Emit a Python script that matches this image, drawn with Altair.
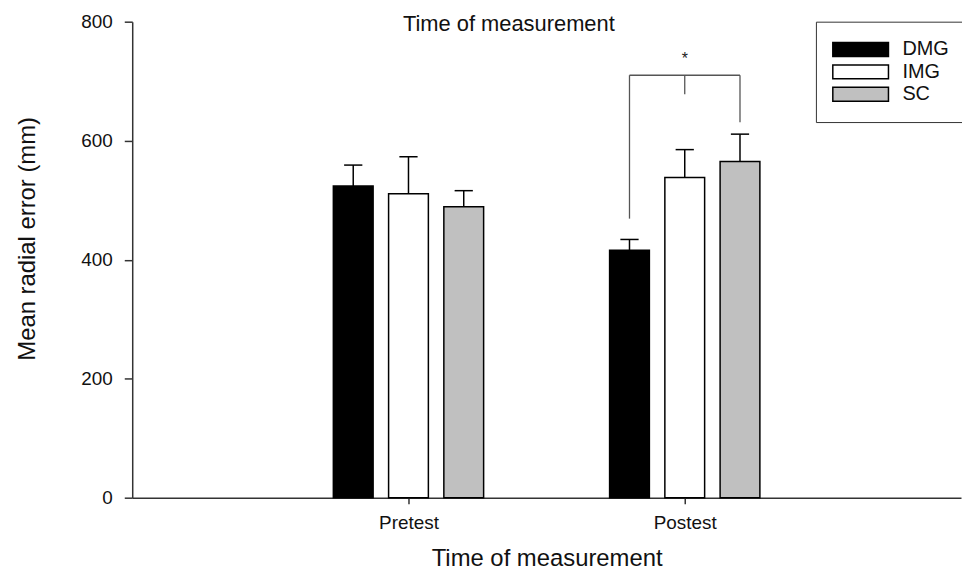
import json
import altair as alt
import pandas as pd

# ---- data ----
times = ["Pretest", "Postest"]
groups = ["DMG", "IMG", "SC"]
dmg_mean = [524, 416]
img_mean = [511, 538]
sc_mean = [489, 565]
dmg_err = [35, 18]
img_err = [62, 47]
sc_err = [27, 46]
bar_colors = ["#000000", "#ffffff", "#c0c0c0"]
y_ticks = [0, 200, 400, 600, 800]

# significance bracket (Postest: DMG vs SC)
bracket_time = "Postest"
bracket_left_y = 469
bracket_right_y = 631
bracket_mid_y = 678
bracket_top_y = 710
star_y = 738
star_text = "*"

top_title = "Time of measurement"
x_title = "Time of measurement"
y_title = "Mean radial error (mm)"

rows = []
for g, m, e in zip(groups, [dmg_mean, img_mean, sc_mean], [dmg_err, img_err, sc_err]):
    for t, mv, ev in zip(times, m, e):
        rows.append({"time": t, "group": g, "mean": mv, "err": ev})
df = pd.DataFrame(rows)

bracket_df = pd.DataFrame([
    {"time": bracket_time, "g1": "DMG", "g2": "DMG", "y1": bracket_left_y, "y2": bracket_top_y},
    {"time": bracket_time, "g1": "SC", "g2": "SC", "y1": bracket_right_y, "y2": bracket_top_y},
    {"time": bracket_time, "g1": "DMG", "g2": "SC", "y1": bracket_top_y, "y2": bracket_top_y},
    {"time": bracket_time, "g1": "IMG", "g2": "IMG", "y1": bracket_mid_y, "y2": bracket_top_y},
])
star_df = pd.DataFrame([{"time": bracket_time, "group": "IMG", "y": star_y, "label": star_text}])
title_df = pd.DataFrame([{"label": top_title}])

T = json.dumps(times)
G = json.dumps(groups)
STEP = 0.2      # offset between bars of a group (x units)
HALF = 0.072    # half bar width
CAP = 0.033     # half error-cap width
FONT = "Liberation Sans, Arial, Helvetica, sans-serif"


def pos(tf, gf):
    return f"indexof({T}, {tf}) + 1 + (indexof({G}, {gf}) - 1) * {STEP}"


xscale = alt.Scale(domain=[0, 3], nice=False, zero=False)
yscale = alt.Scale(domain=[0, 800], nice=False)
xaxis = alt.Axis(values=[1, 2], labelExpr=f"{T}[datum.value - 1]", grid=False,
                 tickSize=6, labelPadding=10, labelFontSize=19, labelColor="#111",
                 domainColor="#333", domainWidth=1.5, tickColor="#333", tickWidth=1.5,
                 titleFontSize=24, titleFontWeight="normal", titleColor="#111",
                 titleY=73, titleBaseline="bottom")
yaxis = alt.Axis(values=y_ticks, grid=False, tickSize=8, labelPadding=12, labelFontSize=19,
                 labelColor="#111", domainColor="#333", domainWidth=1.5, tickColor="#333",
                 tickWidth=1.5, titleFontSize=24, titleFontWeight="normal", titleColor="#111",
                 titleX=-98, titleY=218, titleAngle=270, titleAlign="center",
                 titleBaseline="alphabetic")

base = alt.Chart(df).transform_calculate(
    xc=pos("datum.time", "datum.group"),
    top="datum.mean + datum.err",
).transform_calculate(
    x0=f"datum.xc - {HALF}", x1=f"datum.xc + {HALF}",
    c0=f"datum.xc - {CAP}", c1=f"datum.xc + {CAP}",
)

legend = alt.Legend(
    title=None, orient="none", legendX=688, legendY=0, padding=18,
    strokeColor="#333", fillColor="white",
    symbolType="M0,-1H8V1H0Z", symbolSize=196, symbolStrokeColor="black",
    symbolStrokeWidth=1.5, symbolOpacity=1, symbolOffset=-11, labelOffset=60,
    labelFontSize=20, labelColor="#111", rowPadding=2.5,
    labelExpr="datum.label + '    '",
)

bars = base.mark_bar(stroke="black", strokeWidth=1.5, opacity=1).encode(
    x=alt.X("x0:Q", scale=xscale, axis=xaxis, title=x_title),
    x2="x1:Q",
    y=alt.Y("mean:Q", scale=yscale, axis=yaxis, title=y_title),
    y2=alt.datum(0),
    color=alt.Color("group:N", scale=alt.Scale(domain=groups, range=bar_colors), legend=legend),
)

err_rule = base.mark_rule(color="black", strokeWidth=1.5).encode(
    x=alt.X("xc:Q", scale=xscale, axis=xaxis, title=x_title),
    y=alt.Y("mean:Q", scale=yscale, axis=yaxis, title=y_title),
    y2="top:Q",
)

err_cap = base.mark_rule(color="black", strokeWidth=1.5).encode(
    x=alt.X("c0:Q", scale=xscale, axis=xaxis, title=x_title),
    x2="c1:Q",
    y=alt.Y("top:Q", scale=yscale, axis=yaxis, title=y_title),
)

bracket = alt.Chart(bracket_df).transform_calculate(
    xa=pos("datum.time", "datum.g1"),
    xb=pos("datum.time", "datum.g2"),
).mark_rule(color="#555", strokeWidth=1.3).encode(
    x=alt.X("xa:Q", scale=xscale, axis=xaxis, title=x_title),
    x2="xb:Q",
    y=alt.Y("y1:Q", scale=yscale, axis=yaxis, title=y_title),
    y2="y2:Q",
)

star = alt.Chart(star_df).transform_calculate(
    xs=pos("datum.time", "datum.group"),
).mark_text(fontSize=16, baseline="middle", align="center", color="#222").encode(
    x=alt.X("xs:Q", scale=xscale, axis=xaxis, title=x_title),
    y=alt.Y("y:Q", scale=yscale, axis=yaxis, title=y_title),
    text="label:N",
)

# chart title, placed inside the top of the plot as in the reference
title_mark = alt.Chart(title_df).mark_text(
    fontSize=22, baseline="alphabetic", align="center", color="#111"
).encode(x=alt.value(379), y=alt.value(9), text="label:N")

chart = alt.layer(bars, err_rule, err_cap, bracket, star, title_mark).properties(
    width=834, height=479,
    autosize=alt.AutoSizeParams(type="none"),
    padding={"left": 125, "top": 12, "right": 1, "bottom": 73},
).configure(font=FONT).configure_view(stroke=None)

chart.save("out.html", embed_options={"renderer": "svg", "actions": False})
